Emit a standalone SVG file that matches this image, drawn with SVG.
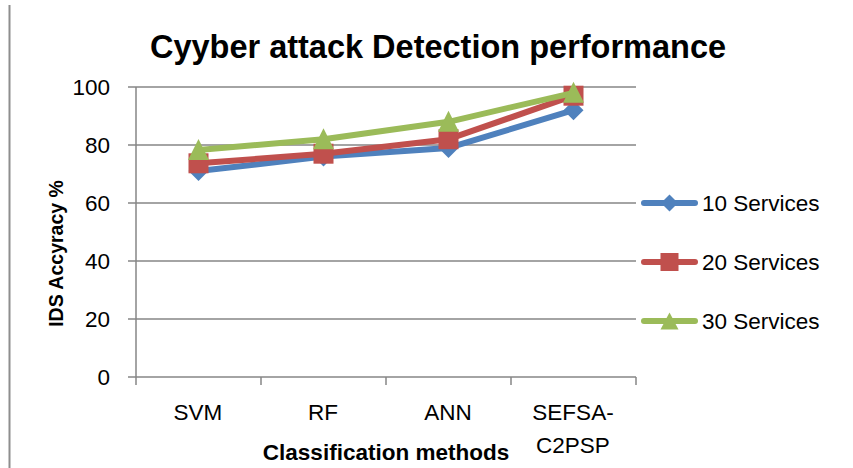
<svg xmlns="http://www.w3.org/2000/svg" width="853" height="468" viewBox="0 0 853 468">
<style>
.t{font-family:"Liberation Sans",Arial,sans-serif;fill:#000}
.b{font-weight:bold}
.grid{stroke:#868686;stroke-width:1.5;fill:none}
.ser{fill:none;stroke-width:6;stroke-linejoin:round;stroke-linecap:round}
</style>
<defs>
<marker id="mDia" markerUnits="userSpaceOnUse" markerWidth="22" markerHeight="22" refX="11" refY="11" overflow="visible"><path d="M11 1 L21 11 L11 21 L1 11 Z" fill="#4F81BD"/></marker>
<marker id="mSq" markerUnits="userSpaceOnUse" markerWidth="22" markerHeight="22" refX="11" refY="11" overflow="visible"><rect x="1" y="1" width="20" height="20" fill="#C0504D"/></marker>
<marker id="mTri" markerUnits="userSpaceOnUse" markerWidth="22" markerHeight="22" refX="11" refY="11" overflow="visible"><path d="M11 0 L21.5 21 L0.5 21 Z" fill="#9BBB59"/></marker>
<marker id="lDia" markerUnits="userSpaceOnUse" markerWidth="20" markerHeight="20" refX="9" refY="9" overflow="visible"><path d="M9 0.5 L17.5 9 L9 17.5 L0.5 9 Z" fill="#4F81BD"/></marker>
<marker id="lSq" markerUnits="userSpaceOnUse" markerWidth="20" markerHeight="20" refX="9" refY="9" overflow="visible"><rect x="0" y="0" width="18" height="18" fill="#C0504D"/></marker>
<marker id="lTri" markerUnits="userSpaceOnUse" markerWidth="20" markerHeight="20" refX="9" refY="9" overflow="visible"><path d="M9 0.5 L18 17.5 L0 17.5 Z" fill="#9BBB59"/></marker>
</defs>
<rect width="853" height="468" fill="#fff"/>
<line x1="9.5" y1="5" x2="9.5" y2="468" stroke="#8e8e8e" stroke-width="2"/>
<text class="t b" x="438" y="58" font-size="32.5" text-anchor="middle">Cyyber attack Detection performance</text>
<g id="axes">
<path class="grid" d="M128 87H636M128 145H636M128 203H636M128 261H636M128 319H636M128 377H636M136 87V385M261 377V385M386 377V385M511 377V385M636 377V385"/>
<g class="t" font-size="22.5" text-anchor="end">
<text x="110" y="95">100</text>
<text x="110" y="153">80</text>
<text x="110" y="211">60</text>
<text x="110" y="269">40</text>
<text x="110" y="327">20</text>
<text x="110" y="385">0</text>
</g>
<g class="t" font-size="22.5" text-anchor="middle">
<text x="198" y="420">SVM</text>
<text x="323" y="420">RF</text>
<text x="448" y="420">ANN</text>
<text x="573" y="420">SEFSA-</text>
<text x="573" y="453">C2PSP</text>
</g>
<text class="t b" x="386" y="460" font-size="22.5" text-anchor="middle">Classification methods</text>
<text class="t b" x="0" y="0" font-size="19.5" text-anchor="middle" transform="translate(63 253.5) rotate(-90)">IDS Accyracy %</text>
</g>
<g id="connectors">
<polyline id="s10" class="ser" stroke="#4F81BD" points="198.5,171.1 323.5,156.6 448.5,147.9 573.5,110.2" marker-start="url(#mDia)" marker-mid="url(#mDia)" marker-end="url(#mDia)"/>
<polyline id="s20" class="ser" stroke="#C0504D" points="198.5,163.3 323.5,153.7 448.5,139.2 573.5,95.7" marker-start="url(#mSq)" marker-mid="url(#mSq)" marker-end="url(#mSq)"/>
<polyline id="s30" class="ser" stroke="#9BBB59" points="198.5,150.0 323.5,139.2 448.5,121.8 573.5,92.8" marker-start="url(#mTri)" marker-mid="url(#mTri)" marker-end="url(#mTri)"/>
</g>
<g id="legend">
<g id="leg10">
<polyline class="ser" stroke="#4F81BD" points="644,203 669.5,203 695,203" marker-mid="url(#lDia)"/>
<text class="t" x="702" y="211" font-size="22.5">10 Services</text>
</g>
<g id="leg20">
<polyline class="ser" stroke="#C0504D" points="644,262 669.5,262 695,262" marker-mid="url(#lSq)"/>
<text class="t" x="702" y="270" font-size="22.5">20 Services</text>
</g>
<g id="leg30">
<polyline class="ser" stroke="#9BBB59" points="644,321 669.5,321 695,321" marker-mid="url(#lTri)"/>
<text class="t" x="702" y="329" font-size="22.5">30 Services</text>
</g>
</g>
</svg>
